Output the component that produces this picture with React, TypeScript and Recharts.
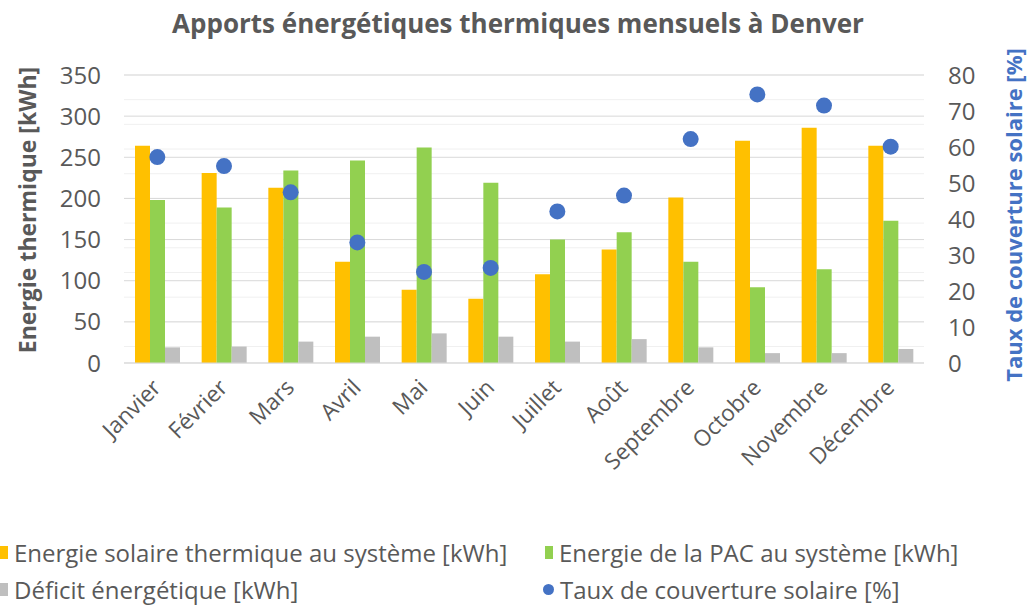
import { ComposedChart, Bar, Scatter, XAxis, YAxis, CartesianGrid } from 'recharts';

const months = ['Janvier', 'Février', 'Mars', 'Avril', 'Mai', 'Juin', 'Juillet', 'Août', 'Septembre', 'Octobre', 'Novembre', 'Décembre'];
const solaire = [264, 231, 213, 123, 89, 78, 108, 138, 201, 270, 286, 264];
const pac = [198, 189, 234, 246, 262, 219, 150, 159, 123, 92, 114, 173];
const deficit = [19, 20, 26, 32, 36, 32, 26, 29, 19, 12, 12, 17];
const taux = [57.2, 54.7, 47.4, 33.5, 25.3, 26.4, 42.1, 46.5, 62.2, 74.6, 71.5, 60.1];

const leftTicks = [0, 50, 100, 150, 200, 250, 300, 350];
const rightTicks = [0, 10, 20, 30, 40, 50, 60, 70, 80];
const minorTicks = Array.from({ length: 36 }, (_, i) => i * 10);

const data = months.map((m, i) => ({
    month: m,
    solaire: solaire[i],
    pac: pac[i],
    deficit: deficit[i],
    taux: taux[i],
}));

const FONT = '"Open Sans", "DejaVu Sans", sans-serif';
const GREY = '#595959';

const MonthTick = ({ x, y, payload }: any) => (
    <text
        x={x + 5}
        y={y + 18}
        transform={`rotate(-45, ${x + 5}, ${y + 18})`}
        textAnchor="end"
        fill={GREY}
        fontSize={22.5}
        fontFamily={FONT}
    >
        {payload.value}
    </text>
);

const LeftTitle = ({ viewBox }: any) => {
    const cx = viewBox.x + 27;
    const cy = viewBox.y + viewBox.height / 2 - 9;
    return (
        <text x={cx} y={cy} transform={`rotate(-90, ${cx}, ${cy})`} textAnchor="middle" dominantBaseline="central"
            fill={GREY} fontSize={23} fontWeight="bold" fontFamily={FONT}>
            Energie thermique [kWh]
        </text>
    );
};

const RightTitle = ({ viewBox }: any) => {
    const cx = viewBox.x + 89;
    const cy = viewBox.y + viewBox.height / 2 - 4;
    return (
        <text x={cx} y={cy} transform={`rotate(-90, ${cx}, ${cy})`} textAnchor="middle" dominantBaseline="central"
            fill="#4472C4" fontSize={22} fontWeight="bold" fontFamily={FONT}>
            Taux de couverture solaire [%]
        </text>
    );
};

const Dot = (props: any) => <circle cx={props.cx} cy={props.cy} r={8} fill="#4472C4" />;

const legendItems = [
    { label: 'Energie solaire thermique au système [kWh]', color: '#FFC000', shape: 'square', left: 0, top: 536 },
    { label: 'Energie de la PAC au système [kWh]', color: '#92D050', shape: 'square', left: 545, top: 536 },
    { label: 'Déficit énergétique [kWh]', color: '#BFBFBF', shape: 'square', left: 0, top: 573 },
    { label: 'Taux de couverture solaire [%]', color: '#4472C4', shape: 'circle', left: 543, top: 573 },
];

export default function App() {
    return (
        <div style={{ position: 'relative', width: 1028, height: 606, background: '#fff', fontFamily: FONT }}>
            <style>{'body{margin:0}'}</style>
            <div style={{ position: 'absolute', top: 5, left: 0, width: 1036, textAlign: 'center', fontSize: 26, fontWeight: 'bold', color: GREY }}>
                Apports énergétiques thermiques mensuels à Denver
            </div>
            <ComposedChart
                width={1028}
                height={606}
                data={data}
                margin={{ top: 75, right: 0, left: 0, bottom: 0 }}
                barGap={0}
            >
                <CartesianGrid yAxisId="left" vertical={false} horizontalValues={minorTicks} stroke="#F0F0F0" />
                <CartesianGrid yAxisId="left" vertical={false} horizontalValues={leftTicks} stroke="#D9D9D9" />
                <XAxis
                    dataKey="month"
                    height={243}
                    interval={0}
                    tick={<MonthTick />}
                    tickLine={false}
                    axisLine={{ stroke: '#D9D9D9' }}
                />
                <YAxis
                    yAxisId="left"
                    width={124}
                    domain={[0, 350]}
                    ticks={leftTicks}
                    tickLine={false}
                    axisLine={false}
                    tickSize={0}
                    tickMargin={23}
                    tick={{ fill: GREY, fontSize: 24, fontFamily: FONT }}
                    label={<LeftTitle />}
                />
                <YAxis
                    yAxisId="right"
                    orientation="right"
                    width={104}
                    domain={[0, 80]}
                    ticks={rightTicks}
                    tickLine={false}
                    axisLine={false}
                    tickSize={0}
                    tickMargin={24}
                    tick={{ fill: GREY, fontSize: 24, fontFamily: FONT, textAnchor: 'start' }}
                    label={<RightTitle />}
                />
                <Bar yAxisId="left" dataKey="solaire" fill="#FFC000" barSize={15} isAnimationActive={false} />
                <Bar yAxisId="left" dataKey="pac" fill="#92D050" barSize={15} isAnimationActive={false} />
                <Bar yAxisId="left" dataKey="deficit" fill="#BFBFBF" barSize={15} isAnimationActive={false} />
                <Scatter yAxisId="right" dataKey="taux" fill="#4472C4" shape={<Dot />} isAnimationActive={false} />
            </ComposedChart>
            {legendItems.map((it) => (
                <div key={it.label} style={{ position: 'absolute', left: it.left, top: it.top, display: 'flex', alignItems: 'center', fontSize: 24, color: GREY, whiteSpace: 'nowrap' }}>
                    <span style={{
                        display: 'inline-block',
                        width: it.shape === 'circle' ? 11 : 8,
                        height: it.shape === 'circle' ? 11 : 13,
                        borderRadius: it.shape === 'circle' ? '50%' : 0,
                        background: it.color,
                        marginRight: 6,
                    }} />
                    {it.label}
                </div>
            ))}
        </div>
    );
}
